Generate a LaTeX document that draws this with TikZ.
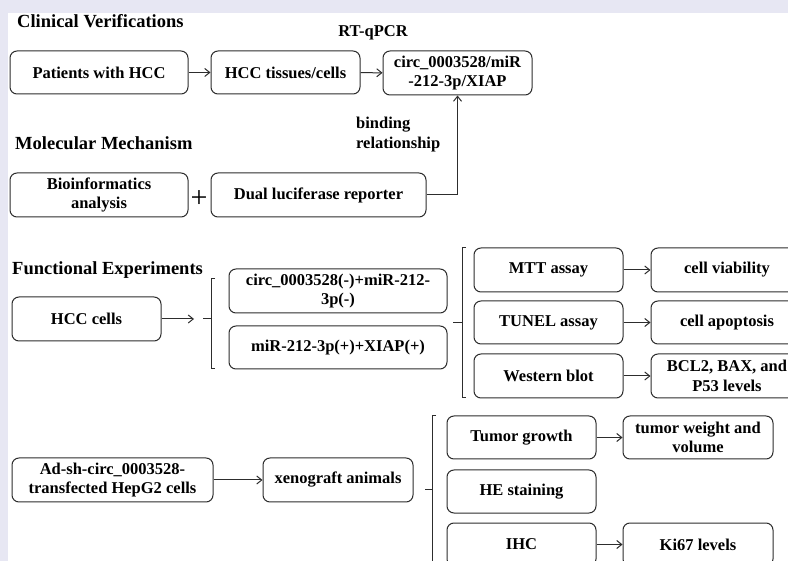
\documentclass[tikz,border=0pt]{standalone}
\usepackage{fontspec}
\setmainfont{Liberation Serif}
\usetikzlibrary{positioning,arrows.meta}
\definecolor{fmLine}{RGB}{45,45,45}
\definecolor{fmBack}{RGB}{231,231,243}

\tikzset{
  box/.style={draw=fmLine, line width=1pt, rounded corners=7pt, align=center,
    inner sep=0pt, minimum height=43pt, font=\fontsize{16.5}{19.5}\selectfont\bfseries},
  title/.style={anchor=west, inner sep=0pt, font=\fontsize{18.5}{22}\selectfont\bfseries},
  note/.style={inner sep=0pt, font=\fontsize{16.5}{19.5}\selectfont\bfseries},
  arr/.style={-{Straight Barb[length=5pt,width=8pt]}, draw=fmLine, line width=1pt},
  brk/.style={draw=fmLine, line width=1pt}
}

\begin{document}
\begin{tikzpicture}[x=1pt,y=-1pt]
  \useasboundingbox (0,0) rectangle (788,561);
  \clip (0,0) rectangle (788,561);
  \fill[fmBack] (0,0) rectangle (788,561);
  \fill[white] (8,13) rectangle (788,561);

  % Clinical verifications
  \node[title] (tClin) at (17,21) {Clinical Verifications};
  \node[box, minimum width=178pt] (pat) at (99,72.5) {Patients with HCC};
  \node[box, minimum width=149pt] (tis) at (285.5,72.5) {HCC tissues/cells};
  \node[box, minimum width=149pt, minimum height=44pt] (circ) at (457.5,73) {circ\_0003528/miR\\-212-3p/XIAP};
  \node[note] (rtq) at (373,33) {RT-qPCR};
  \draw[arr] (pat) -- (tis);
  \draw[arr] (tis) -- (circ);

  % Molecular mechanism
  \node[title] (tMol) at (15,143) {Molecular Mechanism};
  \node[box, minimum width=178pt, minimum height=44pt] (bio) at (99,195) {Bioinformatics\\analysis};
  \node[box, minimum width=215pt, minimum height=44pt] (dual) at (318.5,195) {Dual luciferase reporter};
  \node[note, font=\fontsize{30}{30}\selectfont] (plus) at (199,199) {+};
  \node[note, align=left, anchor=west] (bind) at (356,134.5) {binding\\relationship};
  \draw[arr] (dual.east) -| (circ.south);

  % Functional experiments
  \node[title] (tFun) at (12,270) {Functional Experiments};
  \node[box, minimum width=149pt, minimum height=44pt] (hcc) at (86.5,319) {HCC cells};
  \coordinate (hccTip) at (194,319);
  \draw[arr] (hcc) -- (hccTip);
  \coordinate (br1) at (211,319);
  \draw[brk] ([xshift=-8pt]br1) -- (br1);
  \draw[brk] ([shift={(4,-40)}]br1) -- ++(-4,0) -- ++(0,90) -- ++(4,0);
  \node[box, minimum width=218pt, minimum height=44pt] (neg) at (338,291) {circ\_0003528(-)+miR-212-\\3p(-)};
  \node[box, minimum width=218pt] (pos) at (338,347.5) {miR-212-3p(+)+XIAP(+)};

  \coordinate (br2) at (462,323);
  \draw[brk] ([xshift=-9pt]br2) -- (br2);
  \draw[brk] ([shift={(4,-75)}]br2) -- ++(-4,0) -- ++(0,150) -- ++(4,0);
  \node[box, minimum width=149pt, minimum height=44pt] (mtt) at (548.5,270) {MTT assay};
  \node[box, minimum width=149pt] (tunel) at (548.5,322.5) {TUNEL assay};
  \node[box, minimum width=149pt, minimum height=44pt] (wb) at (548.5,376) {Western blot};
  \node[box, minimum width=152pt, minimum height=44pt] (via) at (727,270) {cell viability};
  \node[box, minimum width=152pt] (apo) at (727,322.5) {cell apoptosis};
  \node[box, minimum width=152pt, minimum height=44pt] (bcl) at (727,376) {BCL2, BAX, and\\P53 levels};
  \draw[arr] (mtt) -- (via);
  \draw[arr] (tunel) -- (apo);
  \draw[arr] (wb) -- (bcl);

  % Xenograft experiments
  \node[box, minimum width=201pt, minimum height=44pt] (ad) at (112.5,480) {Ad-sh-circ\_0003528-\\transfected HepG2 cells};
  \node[box, minimum width=150pt, minimum height=44pt] (xen) at (338,480) {xenograft animals};
  \draw[arr] (ad) -- (xen);
  \coordinate (br3) at (432,490);
  \draw[brk] ([xshift=-7pt]br3) -- (br3);
  \draw[brk] ([shift={(4,-74)}]br3) -- ++(-4,0) -- ++(0,160);
  \node[box, minimum width=149pt] (tum) at (521.5,437.5) {Tumor growth};
  \node[box, minimum width=149pt] (he) at (521.5,491.5) {HE staining};
  \node[box, minimum width=149pt] (ihc) at (521.5,544.5) {IHC};
  \node[box, minimum width=150pt] (twv) at (698,437.5) {tumor weight and\\volume};
  \node[box, minimum width=150pt] (ki) at (698,544.5) {Ki67 levels};
  \draw[arr] (tum) -- (twv);
  \draw[arr] (ihc) -- (ki);
\end{tikzpicture}
\end{document}
